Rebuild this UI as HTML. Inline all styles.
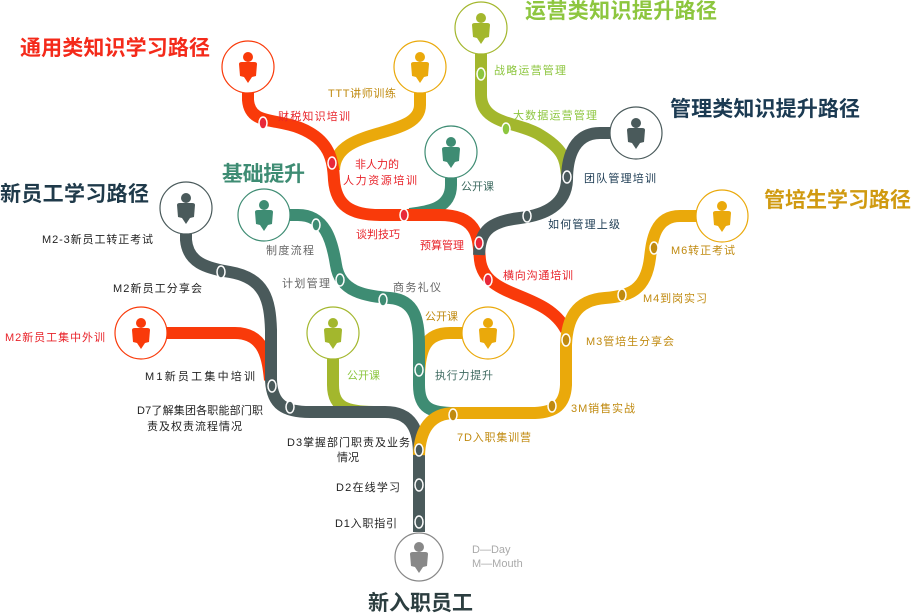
<!DOCTYPE html>
<html><head><meta charset="utf-8"><style>
body{margin:0;background:#fff}
svg{display:block}
text{font-family:"Liberation Sans","Noto Sans CJK SC",sans-serif;font-size:11px}
.t{font-size:21px;font-weight:bold}
</style></head><body>
<svg width="913" height="613" viewBox="0 0 913 613">
<defs>
<g id="p"><circle cx="0" cy="-11" r="5"/><path d="M-9,-4 Q-9,-6 -6,-6 H6 Q9,-6 9,-4 L8,8 L4,9 L0,15 L-4,9 L-8,8 Z"/></g>
</defs>
<g fill="none" stroke-width="12" stroke-linecap="butt">
<path d="M420,93 V105 C420,140 335,125 334,170" stroke="#eaa90b"/>
<path d="M451,178 V185 C451,212 420,212 410,214" stroke="#3e8c73"/>
<path d="M248,93 V100 C250,125 275,118 300,128 C330,140 333,160 334,180 C336,205 350,215 380,215 H440 C480,215 478,240 480,260 C485,300 545,290 566,330" stroke="#f93a0a"/>
<path d="M481,54 V95 C481,125 520,122 540,135 C565,150 565,160 567,175" stroke="#a3b72d"/>
<path d="M612,133 H600 C570,133 567,165 567,180 C566,205 545,215 520,218 C485,222 480,235 479,255" stroke="#4a5a5b"/>
<path d="M167,333 H235 C265,333 268,360 270,380" stroke="#f93a0a"/>
<path d="M333,359 V385 C333,410 350,412 380,412" stroke="#a3b72d"/>
<path d="M462,333 H450 C425,333 420,350 419,375" stroke="#eaa90b"/>
<path d="M290,215 H298 C325,215 332,240 336,265 C340,292 365,296 390,298 C415,300 419,320 419,345 V385 C419,408 430,413 455,413" stroke="#3e8c73"/>
<path d="M186,234 V240 C188,262 205,268 230,272 C265,278 270,300 271,330 V380 C272,405 285,412 310,412 H385 C412,412 419,430 419,455 V532" stroke="#4a5a5b"/>
<path d="M696,216 H680 C655,216 652,240 650,258 C646,290 630,296 605,298 C575,300 567,320 566,345 V385 C565,405 555,412 535,413 H455 C430,413 420,430 419,455" stroke="#eaa90b"/>
</g>
<g stroke="#fff" stroke-width="1.5">
<ellipse cx="263" cy="123" rx="4" ry="6" fill="#e8283a"/>
<ellipse cx="332" cy="163" rx="4" ry="6" fill="#e8283a"/>
<ellipse cx="404" cy="215" rx="4" ry="6" fill="#e8283a"/>
<ellipse cx="479" cy="243" rx="4" ry="6" fill="#e8283a"/>
<ellipse cx="488" cy="280" rx="4" ry="6" fill="#e8283a"/>
<ellipse cx="481" cy="74" rx="4" ry="6" fill="#8dc63f"/>
<ellipse cx="506" cy="129" rx="4" ry="6" fill="#8dc63f"/>
<ellipse cx="567" cy="177" rx="4" ry="6" fill="#4a5a5b"/>
<ellipse cx="527" cy="216" rx="4" ry="6" fill="#4a5a5b"/>
<ellipse cx="654" cy="248" rx="4" ry="6" fill="#c08a10"/>
<ellipse cx="622" cy="295" rx="4" ry="6" fill="#c08a10"/>
<ellipse cx="566" cy="340" rx="4" ry="6" fill="#c08a10"/>
<ellipse cx="552" cy="406" rx="4" ry="6" fill="#c08a10"/>
<ellipse cx="453" cy="415" rx="4" ry="6" fill="#c08a10"/>
<ellipse cx="316" cy="225" rx="4" ry="6" fill="#3e8c73"/>
<ellipse cx="340" cy="280" rx="4" ry="6" fill="#3e8c73"/>
<ellipse cx="383" cy="300" rx="4" ry="6" fill="#3e8c73"/>
<ellipse cx="419" cy="370" rx="4" ry="6" fill="#3e8c73"/>
<ellipse cx="221" cy="272" rx="4" ry="6" fill="#4a5a5b"/>
<ellipse cx="272" cy="386" rx="4" ry="6" fill="#4a5a5b"/>
<ellipse cx="290" cy="407" rx="4" ry="6" fill="#4a5a5b"/>
<ellipse cx="419" cy="450" rx="4" ry="6" fill="#4a5a5b"/>
<ellipse cx="419" cy="485" rx="4" ry="6" fill="#4a5a5b"/>
<ellipse cx="419" cy="522" rx="4" ry="6" fill="#4a5a5b"/>
</g>
<g fill="#fff" stroke-width="1.2">
<circle cx="248" cy="67" r="26" stroke="#f93a0a"/>
<circle cx="420" cy="67" r="26" stroke="#eaa90b"/>
<circle cx="481" cy="28" r="26" stroke="#a3b72d"/>
<circle cx="451" cy="152" r="26" stroke="#3e8c73"/>
<circle cx="636" cy="133" r="26" stroke="#4a5a5b"/>
<circle cx="722" cy="216" r="26" stroke="#eaa90b"/>
<circle cx="186" cy="208" r="26" stroke="#4a5a5b"/>
<circle cx="264" cy="215" r="26" stroke="#3e8c73"/>
<circle cx="141" cy="333" r="26" stroke="#f93a0a"/>
<circle cx="333" cy="333" r="26" stroke="#a3b72d"/>
<circle cx="488" cy="333" r="26" stroke="#eaa90b"/>
<circle cx="419" cy="557" r="24" stroke="#888"/>
</g>
<use href="#p" x="248" y="68" fill="#f93a0a"/>
<use href="#p" x="420" y="68" fill="#eaa90b"/>
<use href="#p" x="481" y="29" fill="#a3b72d"/>
<use href="#p" x="451" y="153" fill="#3e8c73"/>
<use href="#p" x="636" y="134" fill="#4a5a5b"/>
<use href="#p" x="722" y="217" fill="#eaa90b"/>
<use href="#p" x="186" y="209" fill="#4a5a5b"/>
<use href="#p" x="264" y="216" fill="#3e8c73"/>
<use href="#p" x="141" y="334" fill="#f93a0a"/>
<use href="#p" x="333" y="334" fill="#a3b72d"/>
<use href="#p" x="488" y="334" fill="#eaa90b"/>
<use href="#p" x="419" y="558" fill="#888"/>
<text class="t" x="20" y="55" fill="#f42a1a" textLength="190">通用类知识学习路径</text>
<text class="t" x="525" y="18" fill="#8dc63f" textLength="192">运营类知识提升路径</text>
<text class="t" x="670" y="116" fill="#1b3a52" textLength="190">管理类知识提升路径</text>
<text class="t" x="764" y="207" fill="#d09a10" textLength="147">管培生学习路径</text>
<text class="t" x="222" y="181" fill="#3e8c73" textLength="83">基础提升</text>
<text class="t" x="0" y="201" fill="#1f3a4a" textLength="149">新员工学习路径</text>
<text class="t" x="368" y="610" fill="#2c3e40" textLength="105">新入职员工</text>
<text x="472" y="553" fill="#aaa" font-size="12">D—Day</text>
<text x="472" y="567" fill="#aaa" font-size="12">M—Mouth</text>
<g fill="#e8232a">
<text x="278" y="120" textLength="72">财税知识培训</text>
<text x="355" y="168">非人力的</text>
<text x="343" y="184" textLength="74">人力资源培训</text>
<text x="356" y="238">谈判技巧</text>
<text x="420" y="249">预算管理</text>
<text x="503" y="279" textLength="70">横向沟通培训</text>
<text x="5" y="341" textLength="100">M2新员工集中外训</text>
</g>
<g fill="#c08a10">
<text x="328" y="97" textLength="68">TTT讲师训练</text>
<text x="671" y="254" textLength="64">M6转正考试</text>
<text x="643" y="302" textLength="64">M4到岗实习</text>
<text x="586" y="345" textLength="88">M3管培生分享会</text>
<text x="571" y="412" textLength="64">3M销售实战</text>
<text x="457" y="441" textLength="74">7D入职集训营</text>
<text x="425" y="320">公开课</text>
</g>
<g fill="#8dc63f">
<text x="494" y="74" textLength="72">战略运营管理</text>
<text x="513" y="119" textLength="84">大数据运营管理</text>
<text x="347" y="379">公开课</text>
</g>
<g fill="#1b3a52">
<text x="584" y="182" textLength="72">团队管理培训</text>
<text x="548" y="228" textLength="72">如何管理上级</text>
</g>
<g fill="#3e6a60">
<text x="461" y="190">公开课</text>
<text x="435" y="379" textLength="58">执行力提升</text>
</g>
<g fill="#666">
<text x="266" y="254" textLength="48">制度流程</text>
<text x="282" y="287" textLength="48">计划管理</text>
<text x="393" y="291" textLength="48">商务礼仪</text>
</g>
<g fill="#222">
<text x="42" y="243" textLength="111">M2-3新员工转正考试</text>
<text x="113" y="292" textLength="89">M2新员工分享会</text>
<text x="145" y="380" textLength="110">M1新员工集中培训</text>
<text x="137" y="414" textLength="126">D7了解集团各职能部门职</text>
<text x="147" y="430" textLength="95">责及权责流程情况</text>
<text x="287" y="446" textLength="123">D3掌握部门职责及业务</text>
<text x="337" y="461">情况</text>
<text x="336" y="491" textLength="64">D2在线学习</text>
<text x="335" y="527" textLength="62">D1入职指引</text>
</g>
</svg>
</body></html>
